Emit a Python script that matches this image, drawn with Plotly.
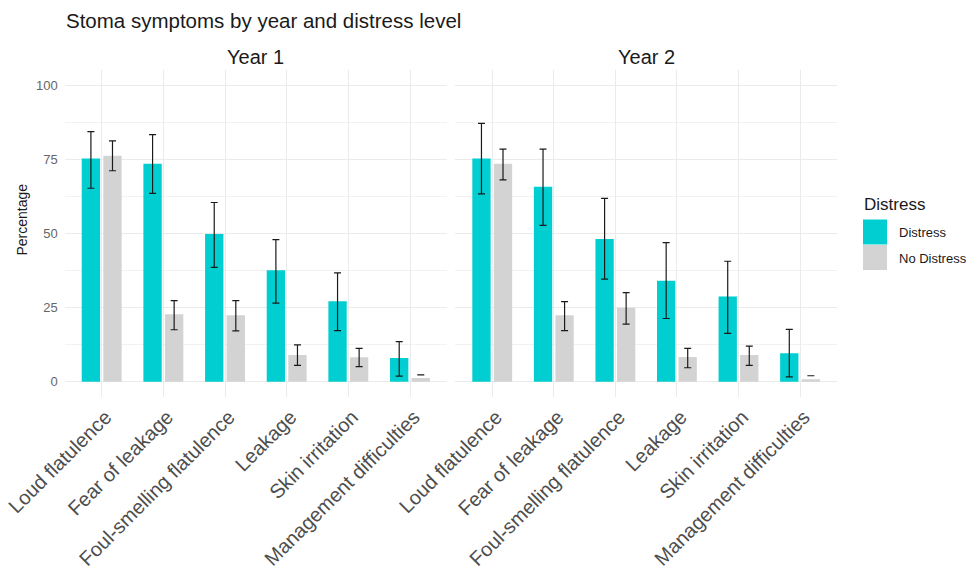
import plotly.graph_objects as go

categories = ["Loud flatulence", "Fear of leakage", "Foul-smelling flatulence",
              "Leakage", "Skin irritation", "Management difficulties"]
years = ["Year 1", "Year 2"]
groups = ["Distress", "No Distress"]

# Year 1
y1_distress = [75.2, 73.5, 49.8, 37.6, 27.1, 8.0]
y1_distress_lo = [65.2, 63.5, 38.5, 26.5, 17.2, 1.9]
y1_distress_hi = [84.3, 83.3, 60.4, 47.9, 36.7, 13.5]
y1_nodistress = [76.2, 22.7, 22.4, 9.0, 8.2, 1.2]
y1_nodistress_lo = [71.1, 17.5, 17.1, 5.5, 5.1, 2.3]
y1_nodistress_hi = [81.2, 27.3, 27.3, 12.4, 11.2, 2.3]

# Year 2
y2_distress = [75.2, 65.7, 48.1, 34.0, 28.7, 9.6]
y2_distress_lo = [63.3, 52.7, 34.6, 21.3, 16.3, 1.6]
y2_distress_hi = [87.1, 78.4, 61.8, 46.9, 40.6, 17.6]
y2_nodistress = [73.5, 22.4, 24.9, 8.3, 9.0, 0.8]
y2_nodistress_lo = [68.0, 17.2, 19.4, 4.7, 5.5, 2.0]
y2_nodistress_hi = [78.4, 27.0, 30.0, 11.2, 12.0, 2.0]

y_ticks = [0, 25, 50, 75, 100]

colors = {"Distress": "#00CED1", "No Distress": "#D3D3D3"}
FONT = "Liberation Sans, Arial, sans-serif"

W, H = 980, 573

def px_x(p):
    return p / W

def px_y(p):
    return (H - p) / H

fig = go.Figure()

panels = [
    ("x", "y", [(y1_distress, y1_distress_lo, y1_distress_hi),
                (y1_nodistress, y1_nodistress_lo, y1_nodistress_hi)]),
    ("x2", "y2", [(y2_distress, y2_distress_lo, y2_distress_hi),
                  (y2_nodistress, y2_nodistress_lo, y2_nodistress_hi)]),
]

for xa, ya, series in panels:
    for g, (vals, lo, hi) in zip(groups, series):
        plus = [h - v for v, h in zip(vals, hi)]
        minus = [v - l for v, l in zip(vals, lo)]
        fig.add_trace(go.Bar(
            x=categories, y=vals, name=g, xaxis=xa, yaxis=ya,
            marker=dict(color=colors[g], line=dict(width=0)),
            offsetgroup=g, showlegend=False,
            error_y=dict(type="data", symmetric=False, array=plus, arrayminus=minus,
                         color="#1a1a1a", thickness=1.2, width=3.5),
            hoverinfo="skip",
        ))

xdom1 = [px_x(64.7), px_x(447)]
xdom2 = [px_x(455.3), px_x(837)]
ydom = [px_y(396.5), px_y(70.2)]

common_x = dict(
    type="category", range=[-0.6, 5.6], showgrid=True, gridcolor="#EBEBEB", gridwidth=1,
    zeroline=False, showline=False, ticks="", tickangle=-45,
    tickfont=dict(family=FONT, size=20, color="#4D4D4D"), automargin=False,
    ticklabelshift=4, ticklabelstandoff=4,
    categoryorder="array", categoryarray=categories,
)
common_y = dict(
    range=[-5, 105], tickvals=y_ticks, showgrid=True, gridcolor="#EBEBEB", gridwidth=1,
    zeroline=False, showline=False, ticks="",
    minor=dict(tickvals=[12.5, 37.5, 62.5, 87.5], showgrid=True, gridcolor="#F2F2F2", gridwidth=0.6),
    tickfont=dict(family=FONT, size=13, color="#666666"), automargin=False,
    ticklabelstandoff=6,
    domain=ydom,
)

fig.update_layout(
    width=W, height=H,
    margin=dict(l=0, r=0, t=0, b=0),
    paper_bgcolor="white", plot_bgcolor="white",
    template="none",
    barmode="group", bargap=0.3, bargroupgap=0.15,
    showlegend=False,
    xaxis=dict(common_x, domain=xdom1, anchor="y"),
    xaxis2=dict(common_x, domain=xdom2, anchor="y2"),
    yaxis=dict(common_y, anchor="x"),
    yaxis2=dict(common_y, anchor="x2", matches="y", showticklabels=False),
    font=dict(family=FONT),
)

annotations = [
    dict(text="Stoma symptoms by year and distress level", x=px_x(64), y=px_y(20),
         xref="paper", yref="paper", xanchor="left", yanchor="middle", showarrow=False,
         font=dict(family=FONT, size=20.5, color="#1a1a1a")),
    dict(text=years[0], x=(xdom1[0] + xdom1[1]) / 2, y=px_y(57), xref="paper", yref="paper",
         xanchor="center", yanchor="middle", showarrow=False,
         font=dict(family=FONT, size=20, color="#1a1a1a")),
    dict(text=years[1], x=(xdom2[0] + xdom2[1]) / 2, y=px_y(57), xref="paper", yref="paper",
         xanchor="center", yanchor="middle", showarrow=False,
         font=dict(family=FONT, size=20, color="#1a1a1a")),
    dict(text="Percentage", x=px_x(21.5), y=px_y(220), xref="paper", yref="paper",
         xanchor="center", yanchor="middle", showarrow=False, textangle=-90,
         font=dict(family=FONT, size=14, color="#1a1a1a")),
    dict(text="Distress", x=px_x(862), y=px_y(204), xref="paper", yref="paper",
         xanchor="left", yanchor="middle", showarrow=False,
         font=dict(family=FONT, size=17, color="#1a1a1a")),
]
shapes = []
key_tops = [219.5, 245]
for g, top in zip(groups, key_tops):
    shapes.append(dict(type="rect", xref="paper", yref="paper",
                       x0=px_x(863), x1=px_x(887), y0=px_y(top + 25), y1=px_y(top),
                       fillcolor=colors[g], line=dict(width=0)))
    annotations.append(dict(text=g, x=px_x(897), y=px_y(top + 13), xref="paper", yref="paper",
                            xanchor="left", yanchor="middle", showarrow=False,
                            font=dict(family=FONT, size=13, color="#1a1a1a")))

fig.update_layout(annotations=annotations, shapes=shapes)

fig.write_html("out.html")
